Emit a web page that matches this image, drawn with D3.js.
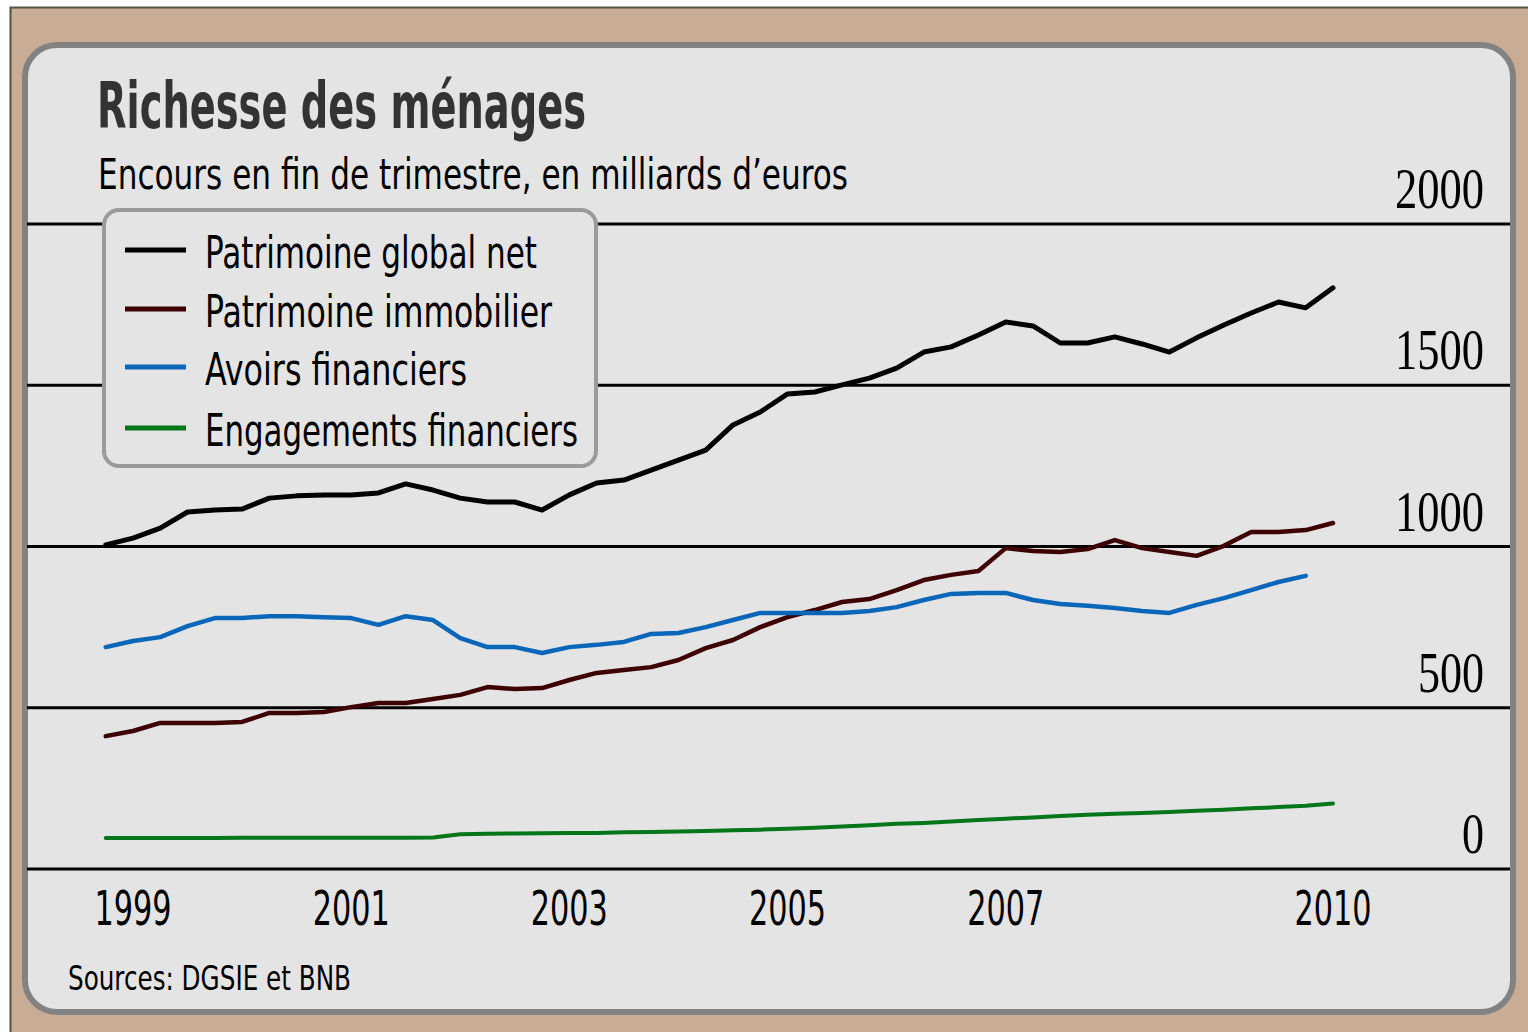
<!DOCTYPE html>
<html>
<head>
<meta charset="utf-8">
<script src="https://cdn.jsdelivr.net/npm/d3@7"></script>
<style>
  html, body { margin: 0; padding: 0; background: #ffffff; }
  svg { display: block; }
</style>
</head>
<body>
<div id="chart"></div>
<script>
// quarters, end of period
const quarters = [
  "1998T4",
  "1999T1", "1999T2", "1999T3", "1999T4",
  "2000T1", "2000T2", "2000T3", "2000T4",
  "2001T1", "2001T2", "2001T3", "2001T4",
  "2002T1", "2002T2", "2002T3", "2002T4",
  "2003T1", "2003T2", "2003T3", "2003T4",
  "2004T1", "2004T2", "2004T3", "2004T4",
  "2005T1", "2005T2", "2005T3", "2005T4",
  "2006T1", "2006T2", "2006T3", "2006T4",
  "2007T1", "2007T2", "2007T3", "2007T4",
  "2008T1", "2008T2", "2008T3", "2008T4",
  "2009T1", "2009T2", "2009T3", "2009T4",
  "2010T1"
];

// milliards d'euros
const patrimoineNet = [1005, 1026, 1057, 1107, 1113, 1116, 1150, 1157, 1160, 1160, 1166, 1194, 1175, 1150, 1138, 1138,
  1113, 1160, 1197, 1206, 1237, 1268, 1299, 1377, 1417, 1473, 1479, 1501, 1522, 1553, 1603, 1619,
  1656, 1696, 1684, 1631, 1631, 1650, 1628, 1603, 1647, 1687, 1724, 1758, 1740, 1802];
const patrimoineImmo = [412, 428, 453, 453, 453, 456, 484, 484, 487, 502, 515, 515, 527, 540, 564, 558,
  561, 586, 608, 617, 626, 648, 685, 710, 750, 781, 803, 828, 837, 865, 896, 912,
  924, 995, 986, 983, 992, 1020, 995, 983, 971, 1002, 1045, 1045, 1051, 1073];
const avoirsFin = [688, 707, 719, 753, 778, 778, 784, 784, 781, 778, 757, 784, 772, 716, 688, 688,
  670, 688, 695, 704, 729, 732, 750, 772, 794, 794, 794, 794, 800, 812, 834, 853,
  856, 856, 834, 822, 816, 809, 800, 794, 819, 840, 865, 890, 909];
const engagementsFin = [96, 96, 96, 96, 96, 97, 97, 97, 97, 97, 97, 97, 98, 108, 109, 110,
  111, 112, 112, 114, 115, 116, 118, 120, 122, 125, 128, 132, 136, 140, 143, 147,
  152, 156, 160, 164, 168, 171, 174, 177, 181, 184, 188, 192, 196, 203];

const seriesNames = ["Patrimoine global net", "Patrimoine immobilier", "Avoirs financiers", "Engagements financiers"];
const seriesColors = ["#000000", "#3d0003", "#0a66b8", "#04761a"];
const seriesWidths = [5, 4.5, 4.5, 4];

const yTicks = [0, 500, 1000, 1500, 2000];
const xTickYears = [1999, 2001, 2003, 2005, 2007, 2010];

const W = 1528, H = 1032;
const fontSans = "'DejaVu Sans Condensed', 'DejaVu Sans', sans-serif";
const fontSerif = "'Liberation Serif', 'DejaVu Serif', serif";

function quarterToYear(q) {
  const yr = +q.slice(0, 4), t = +q.slice(5);
  return yr + (t - 1) / 4;
}

const svg = d3.select("#chart").append("svg").attr("width", W).attr("height", H);

// page background
svg.append("rect").attr("x", 10).attr("y", 7).attr("width", W - 10).attr("height", H - 7)
  .attr("fill", "#c8ac96");
svg.append("path").attr("d", `M10.5,${H} V7.5 H${W}`).attr("fill", "none")
  .attr("stroke", "#55533f").attr("stroke-width", 2);

// panel
svg.append("rect").attr("x", 25).attr("y", 45).attr("width", 1488).attr("height", 967)
  .attr("rx", 32).attr("ry", 32)
  .attr("fill", "#e4e4e4").attr("stroke", "#828282").attr("stroke-width", 6);

const x = d3.scaleLinear().domain([1999, 2010]).range([133, 1333]);
const y = d3.scaleLinear().domain([0, 2000]).range([869, 224]);

// gridlines
svg.append("g").selectAll("line").data(yTicks).join("line")
  .attr("x1", 27).attr("x2", 1510)
  .attr("y1", d => y(d)).attr("y2", d => y(d))
  .attr("stroke", "#000").attr("stroke-width", 3);

// y labels (right side, above the lines)
const yLabelWidth = { 1: 22, 3: 66, 4: 89 };
svg.append("g").selectAll("text").data(yTicks).join("text")
  .attr("x", 1484).attr("y", d => y(d) - 16)
  .attr("text-anchor", "end")
  .attr("font-family", fontSerif).attr("font-size", 56)
  .attr("textLength", d => yLabelWidth[String(d).length])
  .attr("lengthAdjust", "spacingAndGlyphs")
  .attr("fill", "#000")
  .text(d => d);

// x labels
svg.append("g").selectAll("text").data(xTickYears).join("text")
  .attr("x", d => x(d)).attr("y", 925)
  .attr("text-anchor", "middle")
  .attr("font-family", fontSans).attr("font-size", 48)
  .attr("textLength", 77).attr("lengthAdjust", "spacingAndGlyphs")
  .attr("fill", "#000")
  .text(d => d);

// lines
const allSeries = [patrimoineNet, patrimoineImmo, avoirsFin, engagementsFin];
const line = d3.line()
  .x((d, i) => x(quarterToYear(quarters[i])))
  .y(d => y(d))
  .curve(d3.curveLinear);

svg.append("g").selectAll("path").data(allSeries).join("path")
  .attr("d", d => line(d))
  .attr("fill", "none")
  .attr("stroke", (d, i) => seriesColors[i])
  .attr("stroke-width", (d, i) => seriesWidths[i])
  .attr("stroke-linejoin", "round")
  .attr("stroke-linecap", "round");

// legend
const legend = svg.append("g");
legend.append("rect").attr("x", 104).attr("y", 210).attr("width", 492).attr("height", 256)
  .attr("rx", 15).attr("ry", 15)
  .attr("fill", "#e4e4e4").attr("stroke", "#9a9a9a").attr("stroke-width", 4);

const legendY = [250, 309, 367, 428];
const legendTextW = [332, 347, 262, 373];
const items = legend.selectAll("g").data(seriesNames).join("g");
items.append("line")
  .attr("x1", 125).attr("x2", 186)
  .attr("y1", (d, i) => legendY[i]).attr("y2", (d, i) => legendY[i])
  .attr("stroke", (d, i) => seriesColors[i]).attr("stroke-width", 5);
items.append("text")
  .attr("x", 205).attr("y", (d, i) => legendY[i] + 18)
  .attr("font-family", fontSans).attr("font-size", 44)
  .attr("textLength", (d, i) => legendTextW[i]).attr("lengthAdjust", "spacingAndGlyphs")
  .attr("fill", "#000")
  .text(d => d);

// titles
svg.append("text").attr("x", 97).attr("y", 128)
  .attr("font-family", fontSans).attr("font-weight", "bold").attr("font-size", 64)
  .attr("textLength", 489).attr("lengthAdjust", "spacingAndGlyphs")
  .attr("fill", "#333333")
  .text("Richesse des ménages");

svg.append("text").attr("x", 98).attr("y", 189)
  .attr("font-family", fontSans).attr("font-size", 42)
  .attr("textLength", 750).attr("lengthAdjust", "spacingAndGlyphs")
  .attr("fill", "#000")
  .text("Encours en fin de trimestre, en milliards d’euros");

// source
svg.append("text").attr("x", 68).attr("y", 990)
  .attr("font-family", fontSans).attr("font-size", 34)
  .attr("textLength", 283).attr("lengthAdjust", "spacingAndGlyphs")
  .attr("fill", "#000")
  .text("Sources: DGSIE et BNB");
</script>
</body>
</html>
